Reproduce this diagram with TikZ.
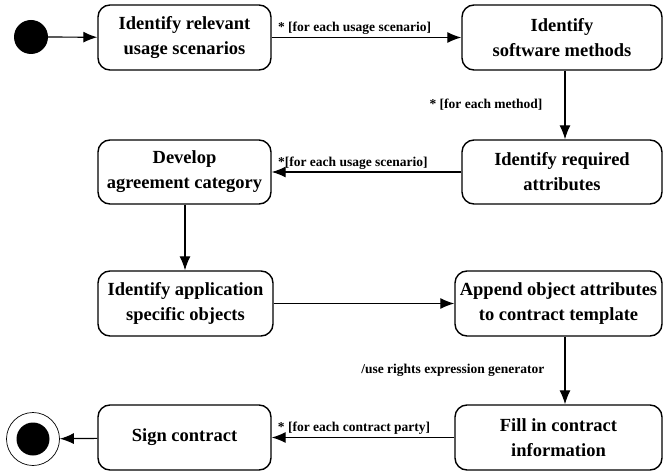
\documentclass[tikz,border=0pt]{standalone}
\usepackage{fontspec}
\setmainfont{Liberation Serif}
\usetikzlibrary{arrows.meta}

\tikzset{
    activity/.style={draw, line width=1.4pt, rounded corners=12pt, align=center,
        font=\bfseries\fontsize{18.5}{25}\selectfont, inner sep=0pt},
    flow/.style={line width=1.2pt, -{Latex[length=14pt,width=11pt]}},
    guard/.style={font=\bfseries\fontsize{13.5}{15}\selectfont, inner sep=2pt}
}

\begin{document}
\begin{tikzpicture}[x=1pt, y=-1pt]
    \useasboundingbox (0,0) rectangle (663,473);
    % initial and final states
    \node[circle, fill=black, minimum size=34pt, inner sep=0pt] (start) at (31,37) {};
    \node[circle, draw, line width=0.7pt, minimum size=53pt, inner sep=0pt] (stop) at (33,439) {};
    \node[circle, fill=black, minimum size=33pt, inner sep=0pt] at (stop) {};
    % activities
    \node[activity, minimum width=173pt, minimum height=65pt] (relevant) at (184.5,37.5) {Identify relevant\\usage scenarios};
    \node[activity, minimum width=200pt, minimum height=65pt] (methods) at (562,37.5) {Identify\\software methods};
    \node[activity, minimum width=200pt, minimum height=64pt] (attributes) at (562,172) {Identify required\\attributes};
    \node[activity, minimum width=173pt, minimum height=64pt] (category) at (184.5,172) {Develop\\agreement category};
    \node[activity, minimum width=175pt, minimum height=65pt] (objects) at (185.5,303.5) {Identify application\\specific objects};
    \node[activity, minimum width=207pt, minimum height=65pt] (append) at (558.5,303.5) {Append object attributes\\to contract template};
    \node[activity, minimum width=207pt, minimum height=65pt] (fill) at (558.5,437.5) {Fill in contract\\information};
    \node[activity, minimum width=173pt, minimum height=65pt] (sign) at (184.5,437.5) {Sign contract};
    % transitions
    \draw[flow] (start) -- (relevant);
    \draw[flow] (relevant) -- node[guard, pos=0.02, above right] {* [for each usage scenario]} (methods);
    \draw[flow] (methods.south -| 565,0) -- node[guard, left=20pt] {* [for each method]} (attributes.north -| 565,0);
    \draw[flow] (attributes) -- node[guard, pos=0.98, above right] {*[for each usage scenario]} (category);
    \draw[flow] (category.south -| 185,0) -- (objects.north -| 185,0);
    \draw[flow] (objects) -- (append);
    \draw[flow] (append.south -| 565,0) -- node[guard, left=18pt] {/use rights expression generator} (fill.north -| 565,0);
    \draw[flow] (fill) -- node[guard, pos=0.98, above right] {* [for each contract party]} (sign);
    \draw[flow] (sign) -- (stop);
\end{tikzpicture}
\end{document}
